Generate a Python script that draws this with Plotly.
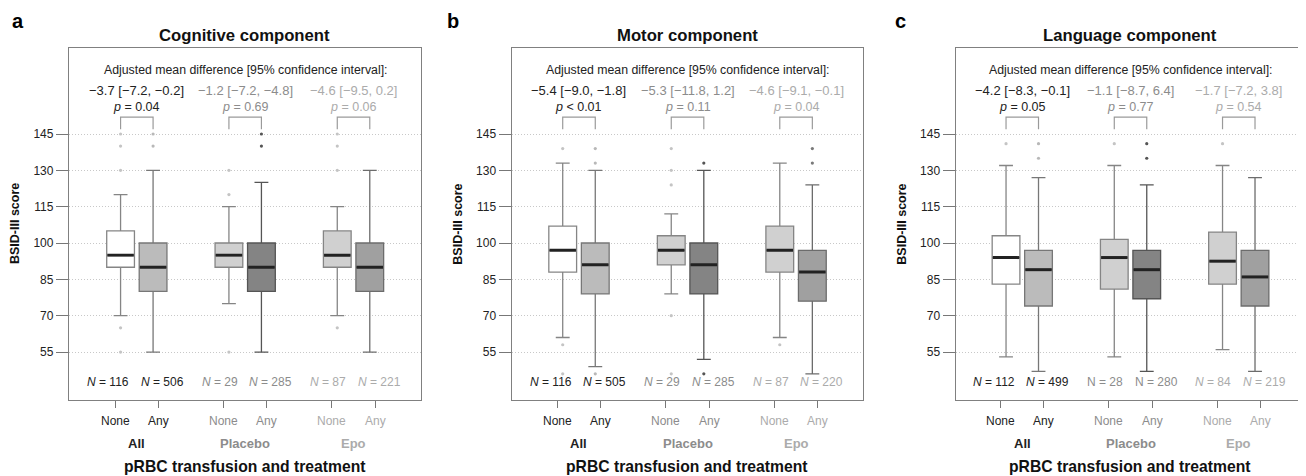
import plotly.graph_objects as go

groups = ["All", "Placebo", "Epo"]
arms = ["None", "Any"]
panel_letters = ["a", "b", "c"]
panel_titles = ["Cognitive component", "Motor component", "Language component"]

# order of boxes: None-All, Any-All, None-Placebo, Any-Placebo, None-Epo, Any-Epo
cog_q1 = [90, 80, 90, 80, 90, 80]
cog_med = [95, 90, 95, 90, 95, 90]
cog_q3 = [105, 100, 100, 100, 105, 100]
cog_lo = [70, 55, 75, 55, 70, 55]
cog_hi = [120, 130, 115, 125, 115, 130]
cog_out = [[145, 140, 130, 65, 55], [145, 140], [130, 120, 55], [145, 140], [145, 140, 130, 65], []]
cog_n = [116, 506, 29, 285, 87, 221]
cog_diff = ["−3.7 [−7.2, −0.2]", "−1.2 [−7.2, −4.8]", "−4.6 [−9.5, 0.2]"]
cog_p = ["= 0.04", "= 0.69", "= 0.06"]

mot_q1 = [88, 79, 91, 79, 88, 76]
mot_med = [97, 91, 97, 91, 97, 88]
mot_q3 = [107, 100, 103, 100, 107, 97]
mot_lo = [61, 49, 79, 52, 61, 46]
mot_hi = [133, 130, 112, 130, 133, 124]
mot_out = [[139, 58, 46], [139, 133, 46], [139, 130, 124, 70, 46], [133, 46], [58], [139, 133]]
mot_n = [116, 505, 29, 285, 87, 220]
mot_diff = ["−5.4 [−9.0, −1.8]", "−5.3 [−11.8, 1.2]", "−4.6 [−9.1, −0.1]"]
mot_p = ["&lt; 0.01", "= 0.11", "= 0.04"]

lang_q1 = [83, 74, 81, 77, 83, 74]
lang_med = [94, 89, 94, 89, 92.5, 86]
lang_q3 = [103, 97, 101.5, 97, 104.5, 97]
lang_lo = [53, 47, 53, 47, 56, 47]
lang_hi = [132, 127, 132, 124, 132, 127]
lang_out = [[141], [141, 135], [141], [141, 135], [141], []]
lang_n = [112, 499, 28, 280, 84, 219]
lang_diff = ["−4.2 [−8.3, −0.1]", "−1.1 [−8.7, 6.4]", "−1.7 [−7.2, 3.8]"]
lang_p = ["= 0.05", "= 0.77", "= 0.54"]
lang_n_italic = [True, False, True]

y_ticks = [55, 70, 85, 100, 115, 130, 145]

panels = [
    dict(q1=cog_q1, med=cog_med, q3=cog_q3, lo=cog_lo, hi=cog_hi, out=cog_out, n=cog_n,
         diff=cog_diff, p=cog_p, ital=[True, True, True]),
    dict(q1=mot_q1, med=mot_med, q3=mot_q3, lo=mot_lo, hi=mot_hi, out=mot_out, n=mot_n,
         diff=mot_diff, p=mot_p, ital=[True, True, True]),
    dict(q1=lang_q1, med=lang_med, q3=lang_q3, lo=lang_lo, hi=lang_hi, out=lang_out, n=lang_n,
         diff=lang_diff, p=lang_p, ital=lang_n_italic),
]

# ---- styles / layout ----
FONT = "Liberation Sans, Arial, Helvetica, sans-serif"
fills = ["#ffffff", "#bbbbbb", "#d0d0d0", "#848484", "#d0d0d0", "#a0a0a0"]
outlines = ["#858585", "#777777", "#858585", "#555555", "#858585", "#6c6c6c"]
dot_cols = ["#c4c4c4", "#b8b8b8", "#c4c4c4", "#555555", "#c4c4c4", "#7a7a7a"]
grp_cols = ["#222222", "#8c8c8c", "#ababab"]

OFF = 8  # default page body margin
FW = 1306 - OFF
FH = 476 - OFF


def px(x):
    return (x - OFF) / FW


def py(y):
    return 1 - (y - OFF) / FH


panel_px = [(69, 420.7), (511.7, 862.7), (955.7, 1303.5)]
x_ranges = [[0.374, 3.62], [0.38, 3.614], [0.385, 3.598]]
x_domains = [(px(a), px(b)) for a, b in panel_px]
y_dom = (py(400), py(48))
box_off = 0.15
tick_off = 0.2
box_w = 0.256
letter_x = [10, 445, 893]

fig = go.Figure()
annotations = []


def txt(x, y, text, size, color, xref, yref, xanchor="center", angle=0):
    annotations.append(dict(x=x, y=y, xref=xref, yref=yref, text=text, showarrow=False,
                            xanchor=xanchor, yanchor="middle", textangle=angle,
                            font=dict(size=size, color=color, family=FONT)))


for k, pn in enumerate(panels):
    sfx = "" if k == 0 else str(k + 1)
    xa = "x" + sfx
    ya = "y" + sfx
    for i in range(6):
        g = i // 2
        pos = (g + 1) + (-box_off if i % 2 == 0 else box_off)
        fig.add_trace(go.Box(
            x=[pos], q1=[pn["q1"][i]], median=[pn["med"][i]], q3=[pn["q3"][i]],
            lowerfence=[pn["lo"][i]], upperfence=[pn["hi"][i]],
            width=box_w, whiskerwidth=0.5, boxpoints=False,
            fillcolor=fills[i], line=dict(color=outlines[i], width=1.3),
            xaxis=xa, yaxis=ya, showlegend=False, hoverinfo="skip"))
        fig.add_trace(go.Scatter(
            x=[pos - box_w / 2 + 0.006, pos + box_w / 2 - 0.006], y=[pn["med"][i], pn["med"][i]],
            mode="lines", line=dict(color="#222222", width=3),
            xaxis=xa, yaxis=ya, showlegend=False, hoverinfo="skip"))
        if pn["out"][i]:
            fig.add_trace(go.Scatter(
                x=[pos] * len(pn["out"][i]), y=pn["out"][i], mode="markers",
                marker=dict(color=dot_cols[i], size=3.2),
                xaxis=xa, yaxis=ya, showlegend=False, hoverinfo="skip"))
    for g in range(3):
        c = g + 1
        fig.add_trace(go.Scatter(
            x=[c - box_off, c - box_off, c + box_off, c + box_off], y=[147, 152, 152, 147],
            mode="lines", line=dict(color="#9a9a9a", width=1.2),
            xaxis=xa, yaxis=ya, showlegend=False, hoverinfo="skip"))
        txt(c, 162.9, pn["diff"][g], 13, grp_cols[g], xa, ya)
        txt(c, 156.0, "<i>p</i> " + pn["p"][g], 12.5, grp_cols[g], xa, ya)
        nlab = "<i>N</i>" if pn["ital"][g] else "N"
        txt(c - 0.05, 42.6, f"{nlab} = {pn['n'][2 * g]}", 12, grp_cols[g], xa, ya, xanchor="right")
        txt(c + 0.02, 42.6, f"{nlab} = {pn['n'][2 * g + 1]}", 12, grp_cols[g], xa, ya, xanchor="left")
        for j, a in enumerate(arms):
            txt(c + (-tick_off if j == 0 else tick_off), py(420.7), a, 12, grp_cols[g], xa, "paper")
        txt(c, py(443.3), f"<b>{groups[g]}</b>", 13, grp_cols[g], xa, "paper")
    txt(2, 171.4, "Adjusted mean difference [95% confidence interval]:", 12.3, "#222222", xa, ya)
    x0, x1 = x_domains[k]
    cx = (x0 + x1) / 2
    txt(cx, py(35), f"<b>{panel_titles[k]}</b>", 16.7, "#111111", "paper", "paper")
    txt(cx, py(466.7), "<b>pRBC transfusion and treatment</b>", 15.7, "#111111", "paper", "paper")
    txt(px(panel_px[k][0] - 54), py(224), "<b>BSID-III score</b>", 12.5, "#111111", "paper", "paper",
        angle=-90)
    txt(px(letter_x[k]), py(21), f"<b>{panel_letters[k]}</b>", 20, "#000000", "paper", "paper",
        xanchor="left")

    tickvals = []
    for g in range(3):
        for j in range(2):
            tickvals.append(g + 1 + (-tick_off if j == 0 else tick_off))
    fig.update_layout({
        "xaxis" + sfx: dict(domain=list(x_domains[k]), range=x_ranges[k], anchor=ya,
                            tickvals=tickvals, showticklabels=False, ticks="outside", ticklen=7,
                            tickcolor="#777777", showgrid=False, zeroline=False,
                            showline=True, mirror=True, linecolor="#808080", linewidth=1.3),
        "yaxis" + sfx: dict(domain=list(y_dom), range=[35.2, 180.5], anchor=xa,
                            tickvals=y_ticks, ticks="outside", ticklen=12, tickcolor="#777777",
                            showgrid=True, gridcolor="#c8c8c8", griddash="1px,2px", gridwidth=1,
                            zeroline=False, showline=True, mirror=True, linecolor="#808080",
                            linewidth=1.3,
                            tickfont=dict(size=12, color="#222222", family=FONT),
                            tickprefix="<b>", ticksuffix="</b>"),
    })

fig.update_layout(width=FW, height=FH, margin=dict(l=0, r=0, t=0, b=0),
                  paper_bgcolor="white", plot_bgcolor="white", boxmode="overlay",
                  annotations=annotations, font=dict(family=FONT))
fig.write_html("out.html")
